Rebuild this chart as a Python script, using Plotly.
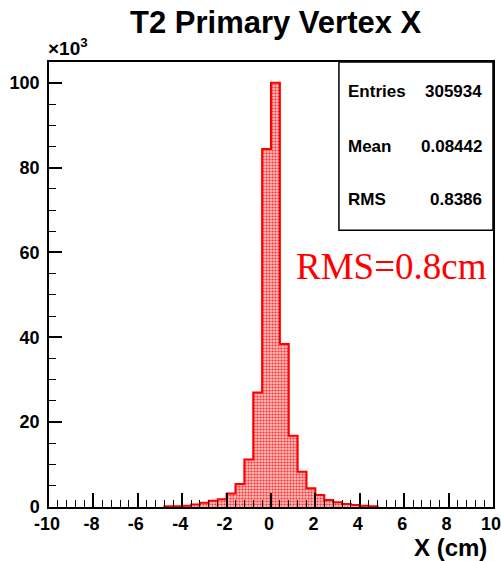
import plotly.graph_objects as go

# Histogram data (bin lower edges in cm, counts)
bin_width = 0.4
bin_lower_edges = [-4.8, -4.4, -4.0, -3.6, -3.2, -2.8, -2.4, -2.0, -1.6, -1.2, -0.8, -0.4,
                   0.0, 0.4, 0.8, 1.2, 1.6, 2.0, 2.4, 2.8, 3.2, 3.6, 4.0, 4.4]
counts = [150, 200, 300, 600, 1000, 1500, 1800, 3200, 5400, 11200, 27000, 84400,
          100000, 38400, 16800, 8300, 4400, 2800, 1650, 1100, 700, 450, 300, 200]

x_tick_vals = [-10, -8, -6, -4, -2, 0, 2, 4, 6, 8, 10]
x_tick_text = ["-10", "-8", "-6", "-4", "-2", "0", "2", "4", "6", "8", "10"]
y_tick_vals = [0, 20, 40, 60, 80, 100]
y_tick_text = ["0", "20", "40", "60", "80", "100"]

stats_labels = ["Entries", "Mean", "RMS"]
stats_values = ["305934", "0.08442", "0.8386"]

title_text = "T2 Primary Vertex X"
x_title = "X (cm)"
note_text = "RMS=0.8cm"

# derived
scale = 1000.0
centers = [e + bin_width / 2 for e in bin_lower_edges]
vals_k = [c / scale for c in counts]
step_x = [bin_lower_edges[0]] + bin_lower_edges + [bin_lower_edges[-1] + bin_width]
step_y = [0] + vals_k + [0]

fig = go.Figure()
fig.add_trace(go.Bar(
    x=centers, y=vals_k, width=bin_width,
    marker=dict(color="#ffa0a0", line=dict(width=0),
                pattern=dict(shape=".", fgcolor="#ff2a2a", bgcolor="#ffbcbc",
                             size=3, solidity=0.4, fillmode="replace")),
    hoverinfo="skip", showlegend=False,
))
fig.add_trace(go.Scatter(
    x=step_x, y=step_y, mode="lines", line=dict(color="#ff0000", width=2, shape="hv"),
    hoverinfo="skip", showlegend=False,
))

FONT = "Liberation Sans, Arial, Helvetica, sans-serif"

fig.update_layout(
    width=501, height=561,
    margin=dict(l=49, r=8, t=62, b=54, autoexpand=False),
    paper_bgcolor="white", plot_bgcolor="white",
    bargap=0,
    font=dict(family=FONT, color="black"),
    xaxis=dict(
        range=[-10, 10], showgrid=False, zeroline=False, automargin=False,
        showline=True, linecolor="black", linewidth=1.5, mirror=True,
        ticks="inside", ticklen=14, tickwidth=1.5, tickcolor="black",
        tickvals=x_tick_vals, ticktext=x_tick_text,
        tickfont=dict(family=FONT, size=18, weight="bold"),
        ticklabeloverflow="allow", ticklabelshift=-2, ticklabelstandoff=0,
        minor=dict(dtick=0.4, ticks="inside", ticklen=7, tickwidth=1.2, tickcolor="black", showgrid=False),
        layer="above traces",
    ),
    yaxis=dict(
        range=[0, 104.9], showgrid=False, zeroline=False, automargin=False,
        showline=True, linecolor="black", linewidth=1.5, mirror=True,
        ticks="inside", ticklen=13, tickwidth=1.5, tickcolor="black",
        tickvals=y_tick_vals, ticktext=y_tick_text,
        tickfont=dict(family=FONT, size=18, weight="bold"),
        ticklabelstandoff=4, ticklabeloverflow="allow",
        minor=dict(dtick=5, ticks="inside", ticklen=7, tickwidth=1.2, tickcolor="black", showgrid=False),
        layer="above traces",
    ),
)

# stats box
fig.add_shape(type="rect", xref="paper", yref="paper", x0=0.653, x1=1.0, y0=0.622, y1=1.0,
              line=dict(color="black", width=1.5), fillcolor="white", layer="above")
stat_y = [0.9326, 0.81, 0.69]
for lab, val, yy in zip(stats_labels, stats_values, stat_y):
    fig.add_annotation(xref="paper", yref="paper", x=0.668, y=yy, text=lab, showarrow=False,
                       xanchor="left", yanchor="middle",
                       font=dict(family=FONT, size=17, weight="bold", color="black"))
    fig.add_annotation(xref="paper", yref="paper", x=0.98, y=yy, text=val, showarrow=False,
                       xanchor="right", yanchor="middle",
                       font=dict(family=FONT, size=17, weight="bold", color="black"))

# title
fig.add_annotation(xref="paper", yref="paper", x=0.511, y=1.088, text=title_text, showarrow=False,
                   xanchor="center", yanchor="middle",
                   font=dict(family=FONT, size=31, weight="bold", color="black"))
# x10^3
fig.add_annotation(xref="paper", yref="paper", x=-0.006, y=1.033, text="×10<sup>3</sup>", showarrow=False,
                   xanchor="left", yanchor="middle",
                   font=dict(family=FONT, size=19, weight="bold", color="black"))
# x axis title
fig.add_annotation(xref="paper", yref="paper", x=0.99, y=-0.092, text=x_title, showarrow=False,
                   xanchor="right", yanchor="middle",
                   font=dict(family=FONT, size=24, weight="bold", color="black"))
# RMS note
fig.add_annotation(xref="paper", yref="paper", x=0.771, y=0.54, text=note_text, showarrow=False,
                   xanchor="center", yanchor="middle",
                   font=dict(family="Liberation Serif, Times New Roman, serif", size=37, color="#ff0000"))

fig.write_html("out.html", config={"displayModeBar": False},
               post_script="document.body.style.margin='0';document.body.style.overflow='hidden';")
